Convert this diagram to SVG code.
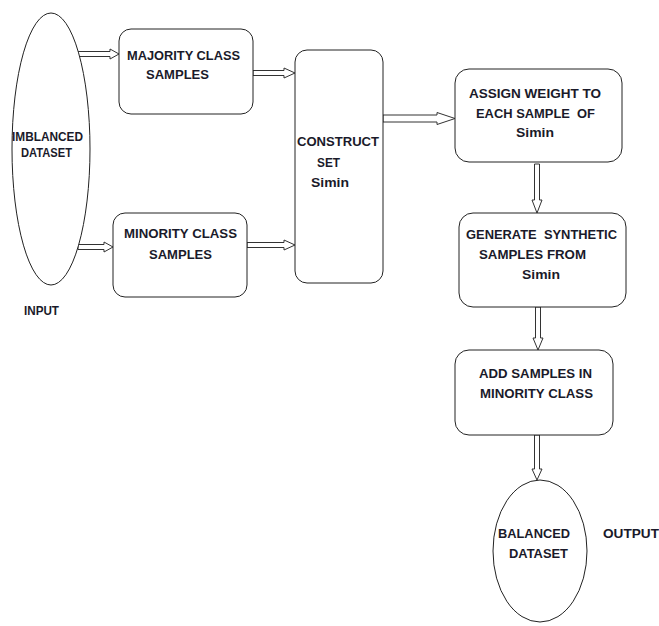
<svg xmlns="http://www.w3.org/2000/svg" width="659" height="626" viewBox="0 0 659 626">
<style>
.n{fill:#fff;stroke:#222;stroke-width:1}
.a{fill:#fff;stroke:#333;stroke-width:1;stroke-linejoin:miter}
text{font-family:"Liberation Sans",Arial,sans-serif;font-weight:bold;font-size:13px;fill:#1a1a2a;white-space:pre}
</style>
<rect width="659" height="626" fill="#fff"/>
<g id="connectors">
<path class="a" d="M78,51.5 L110,51.5 L110,49 L119,54 L110,59 L110,56.5 L78,56.5 Z"/>
<path class="a" d="M78,244.5 L104,244.5 L104,242 L113,247 L104,252 L104,249.5 L78,249.5 Z"/>
<path class="a" d="M253,70.5 L284,70.5 L284,68 L295,73 L284,78 L284,75.5 L253,75.5 Z"/>
<path class="a" d="M247,242.5 L284,242.5 L284,240 L295,245 L284,250 L284,247.5 L247,247.5 Z"/>
<path class="a" d="M383,115 L437,115 L437,112.5 L455,118.5 L437,124.5 L437,122 L383,122 Z"/>
<path class="a" d="M534.5,164 L534.5,200 L532,200 L537,213 L542,200 L539.5,200 L539.5,164 Z"/>
<path class="a" d="M535.5,307 L535.5,338 L533,338 L538,350 L543,338 L540.5,338 L540.5,307 Z"/>
<path class="a" d="M534.5,435 L534.5,469 L532,469 L537,480 L542,469 L539.5,469 L539.5,435 Z"/>
</g>
<g id="imbalanced">
<ellipse class="n" cx="51" cy="149" rx="39" ry="136"/>
<text x="12" y="141" textLength="71" lengthAdjust="spacingAndGlyphs">IMBLANCED</text>
<text x="21" y="157" textLength="51" lengthAdjust="spacingAndGlyphs">DATASET</text>
</g>
<g id="input"><text x="24" y="315" textLength="35" lengthAdjust="spacingAndGlyphs">INPUT</text></g>
<g id="majority">
<rect class="n" x="119" y="29" width="134" height="85" rx="12"/>
<text x="127" y="60" textLength="113" lengthAdjust="spacingAndGlyphs">MAJORITY CLASS</text>
<text x="146" y="79" textLength="63" lengthAdjust="spacingAndGlyphs">SAMPLES</text>
</g>
<g id="minority">
<rect class="n" x="113" y="213" width="134" height="84" rx="12"/>
<text x="124" y="238" textLength="113" lengthAdjust="spacingAndGlyphs">MINORITY CLASS</text>
<text x="149" y="259" textLength="63" lengthAdjust="spacingAndGlyphs">SAMPLES</text>
</g>
<g id="construct">
<rect class="n" x="295" y="50" width="88" height="233" rx="12"/>
<text x="297" y="146" textLength="82" lengthAdjust="spacingAndGlyphs">CONSTRUCT</text>
<text x="317" y="167" textLength="23" lengthAdjust="spacingAndGlyphs">SET</text>
<text x="311" y="187" textLength="38" lengthAdjust="spacingAndGlyphs">Simin</text>
</g>
<g id="assign">
<rect class="n" x="455" y="69" width="167" height="93" rx="14"/>
<text x="469" y="98" textLength="132" lengthAdjust="spacingAndGlyphs">ASSIGN WEIGHT TO</text>
<text x="476" y="118" textLength="119" lengthAdjust="spacingAndGlyphs">EACH SAMPLE  OF</text>
<text x="516" y="137" textLength="38" lengthAdjust="spacingAndGlyphs">Simin</text>
</g>
<g id="generate">
<rect class="n" x="459" y="213" width="167" height="94" rx="14"/>
<text x="466" y="239" textLength="151" lengthAdjust="spacingAndGlyphs">GENERATE  SYNTHETIC</text>
<text x="479" y="259" textLength="107" lengthAdjust="spacingAndGlyphs">SAMPLES FROM</text>
<text x="522" y="279" textLength="38" lengthAdjust="spacingAndGlyphs">Simin</text>
</g>
<g id="add">
<rect class="n" x="455" y="350" width="158" height="85" rx="14"/>
<text x="479" y="378" textLength="113" lengthAdjust="spacingAndGlyphs">ADD SAMPLES IN</text>
<text x="480" y="398" textLength="113" lengthAdjust="spacingAndGlyphs">MINORITY CLASS</text>
</g>
<g id="balanced">
<ellipse class="n" cx="540" cy="551" rx="47" ry="71"/>
<text x="498" y="538" textLength="72" lengthAdjust="spacingAndGlyphs">BALANCED</text>
<text x="509" y="558" textLength="59" lengthAdjust="spacingAndGlyphs">DATASET</text>
</g>
<g id="output"><text x="603" y="538" textLength="56" lengthAdjust="spacingAndGlyphs">OUTPUT</text></g>
</svg>
